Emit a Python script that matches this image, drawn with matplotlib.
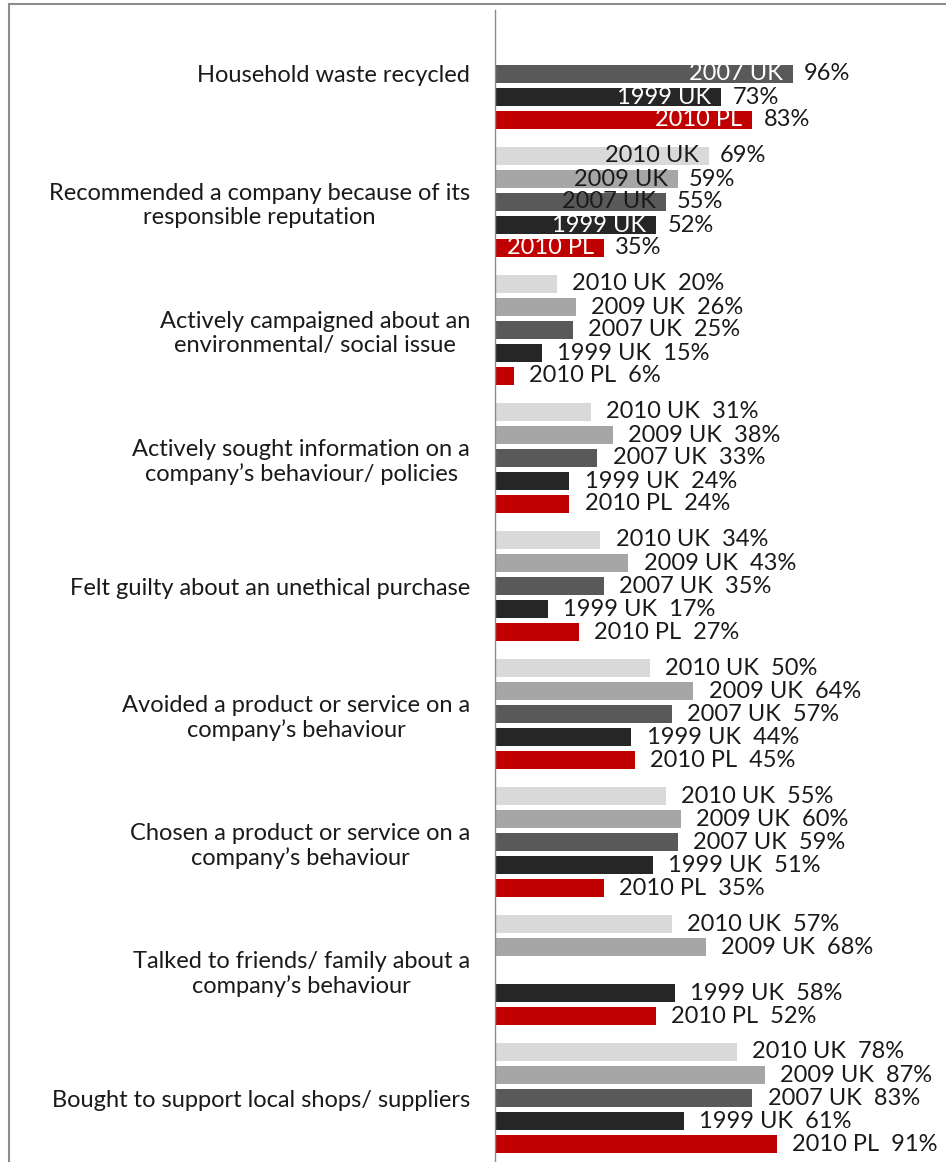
import numpy as np
import matplotlib.pyplot as plt
from matplotlib.lines import Line2D

categories = [
    "Household waste recycled",
    "Recommended a company because of its\nresponsible reputation",
    "Actively campaigned about an\nenvironmental/ social issue",
    "Actively sought information on a\ncompany\u2019s behaviour/ policies",
    "Felt guilty about an unethical purchase",
    "Avoided a product or service on a\ncompany\u2019s behaviour",
    "Chosen a product or service on a\ncompany\u2019s behaviour",
    "Talked to friends/ family about a\ncompany\u2019s behaviour",
    "Bought to support local shops/ suppliers",
]
series = ["2010 UK", "2009 UK", "2007 UK", "1999 UK", "2010 PL"]
uk_2010 = [None, 69, 20, 31, 34, 50, 55, 57, 78]
uk_2009 = [None, 59, 26, 38, 43, 64, 60, 68, 87]
uk_2007 = [96, 55, 25, 33, 35, 57, 59, None, 83]
uk_1999 = [73, 52, 15, 24, 17, 44, 51, 58, 61]
pl_2010 = [83, 35, 6, 24, 27, 45, 35, 52, 91]

colors = ["#d9d9d9", "#a6a6a6", "#595959", "#262626", "#c00000"]
inside_color = ["#1a1a1a", "#1a1a1a", "#1a1a1a", "white", "white"]

plt.rcParams['font.family'] = ['Lato', 'DejaVu Sans']
FS = 17

W, H = 946, 1162
fig = plt.figure(figsize=(W / 100, H / 100), dpi=100)
ax = fig.add_axes([495 / W, 0, 1 - 495 / W, 1 - 10 / H])

group_pitch = 128 / 23
bar_h = 0.74
all_vals = [uk_2010, uk_2009, uk_2007, uk_1999, pl_2010]

for s, vals in enumerate(all_vals):
    for g, v in enumerate(vals):
        if v is None:
            continue
        y = g * group_pitch + (s - 2)
        ax.barh(y, v, height=bar_h, color=colors[s], linewidth=0)
        if g < 2:
            # series name sits inside the bar end, value outside
            tc = "white" if g == 0 else inside_color[s]
            ax.annotate(series[s], (v, y), xytext=(-7, 0), textcoords='offset points',
                        ha='right', va='center', fontsize=FS, color=tc)
            ax.annotate(f"{v}%", (v, y), xytext=(8, 0), textcoords='offset points',
                        ha='left', va='center', fontsize=FS, color="#1a1a1a")
        else:
            ax.annotate(f"{series[s]}  {v}%", (v, y), xytext=(11, 0),
                        textcoords='offset points', ha='left', va='center',
                        fontsize=FS, color="#1a1a1a")

ax.set_xlim(0, (W - 495) / 3.1)
ax.set_ylim((H - 74) / 23, -64 / 23)
centers = [g * group_pitch for g in range(len(categories))]
ax.set_yticks(centers)
ax.set_yticklabels(categories, fontsize=FS, color="#1a1a1a")
for lab in ax.get_yticklabels():
    lab.set_multialignment('center')
ax.tick_params(axis='y', length=0, pad=18)
ax.set_xticks([])
for side in ['top', 'right', 'bottom']:
    ax.spines[side].set_visible(False)
ax.spines['left'].set_color('#8c8c8c')
ax.spines['left'].set_linewidth(1)

# outer chart frame (left and top edges visible)
fig.add_artist(Line2D([9 / W, 9 / W], [0, 1 - 4 / H], color='#8c8c8c', lw=1.5))
fig.add_artist(Line2D([9 / W, 1], [1 - 4 / H, 1 - 4 / H], color='#8c8c8c', lw=1.5))

fig.savefig('out.png', dpi=100)
